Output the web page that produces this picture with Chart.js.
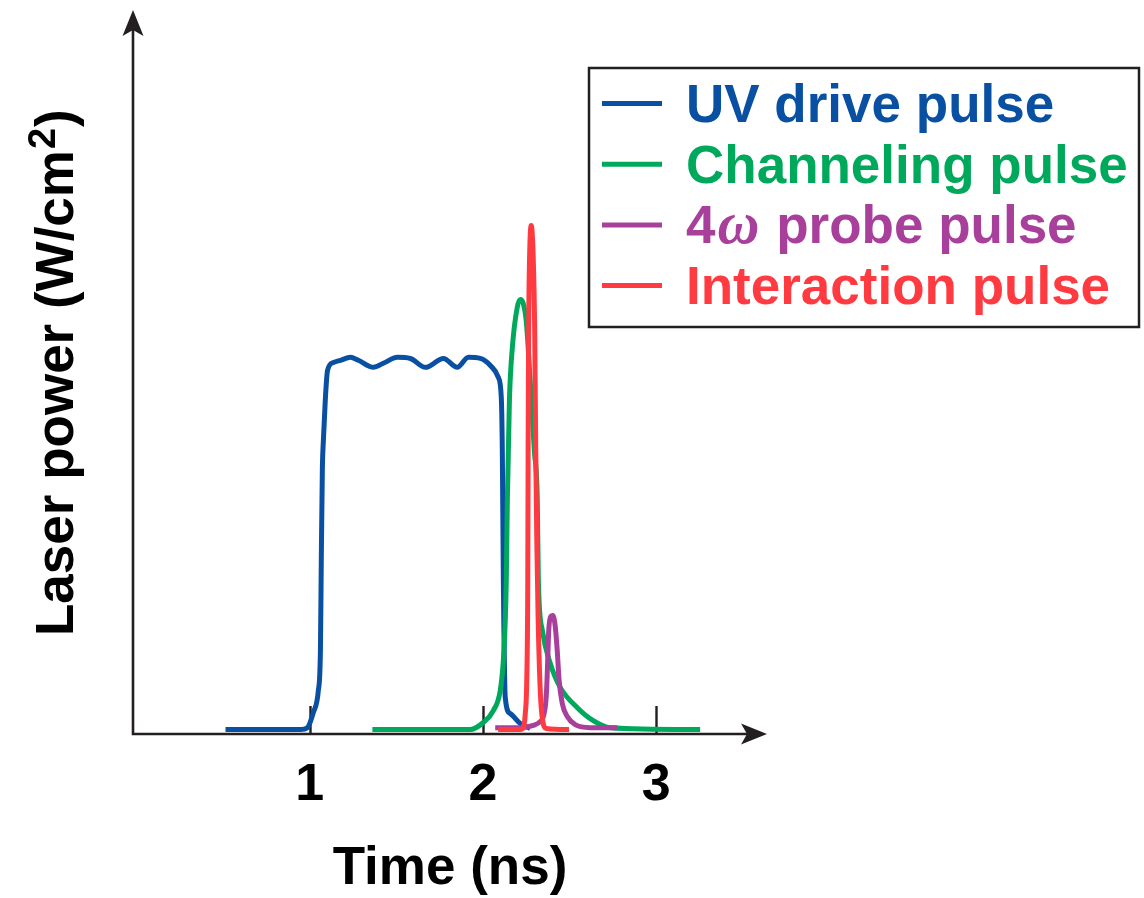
<!DOCTYPE html>
<html>
<head>
<meta charset="utf-8">
<script src="https://cdn.jsdelivr.net/npm/chart.js@4.4.1/dist/chart.umd.min.js"></script>
<style>
  html, body { margin: 0; padding: 0; background: #ffffff; }
  #wrap { width: 1144px; height: 898px; }
</style>
</head>
<body>
<div id="wrap"><canvas id="c" width="1144" height="898"></canvas></div>
<script>
// Pulse names, in legend order
const seriesNames = ['UV drive pulse', 'Channeling pulse', '4ω probe pulse', 'Interaction pulse'];
const seriesColors = ['#0A50A2', '#00A85C', '#A8409B', '#FF3B41'];

// Time (ns) and power (relative units, drive plateau ≈ 1)
const uvTime  = [0.514, 0.947, 0.987, 1.021, 1.05, 1.062, 1.067, 1.073, 1.079, 1.09, 1.103, 1.137, 1.178, 1.235, 1.281, 1.368, 1.425, 1.506, 1.581, 1.668, 1.772, 1.852, 1.916, 1.985, 2.043, 2.089, 2.106, 2.112, 2.118, 2.129, 2.158, 2.216, 2.273];
const uvPower = [0, 0, 0.005, 0.046, 0.105, 0.213, 0.456, 0.698, 0.779, 0.887, 0.968, 0.989, 0.995, 1.003, 0.995, 0.976, 0.987, 1.003, 1.0, 0.976, 1.0, 0.976, 1.003, 1.0, 0.981, 0.949, 0.895, 0.752, 0.402, 0.086, 0.043, 0.016, 0.003];

const chTime  = [1.362, 1.87, 1.927, 2.002, 2.06, 2.1, 2.118, 2.129, 2.135, 2.141, 2.153, 2.17, 2.198, 2.216, 2.233, 2.25, 2.273, 2.297, 2.314, 2.32, 2.343, 2.389, 2.447, 2.545, 2.637, 2.735, 3.254];
const chPower = [0, 0, 0, 0.019, 0.051, 0.105, 0.186, 0.294, 0.402, 0.617, 0.887, 1.03, 1.137, 1.159, 1.148, 1.102, 0.94, 0.75, 0.617, 0.402, 0.267, 0.178, 0.113, 0.059, 0.024, 0.005, 0];

const prTime  = [2.071, 2.216, 2.291, 2.332, 2.349, 2.366, 2.374, 2.38, 2.392, 2.403, 2.417, 2.429, 2.44, 2.458, 2.487, 2.533, 2.62, 2.775];
const prPower = [0.005, 0.005, 0.011, 0.022, 0.035, 0.092, 0.186, 0.267, 0.305, 0.307, 0.28, 0.213, 0.132, 0.07, 0.035, 0.013, 0.005, 0.005];

const intTime  = [2.088, 2.216, 2.233, 2.245, 2.253, 2.259, 2.261, 2.264, 2.269, 2.279, 2.29, 2.299, 2.305, 2.311, 2.319, 2.331, 2.343, 2.366, 2.497];
const intPower = [0, 0, 0.005, 0.046, 0.132, 0.402, 0.752, 1.075, 1.264, 1.358, 1.278, 1.075, 0.752, 0.51, 0.294, 0.105, 0.03, 0.003, 0];

// Axis ticks and titles
const tickValues = [1, 2, 3];
const xTitle = 'Time (ns)';
const yTitleMain = 'Laser power (W/cm';
const yTitleSup = '2';
const yTitleEnd = ')';

const SANS = "'Liberation Sans', Arial, Helvetica, sans-serif";
const SERIF = "'Liberation Serif', 'Times New Roman', serif";
const INK = '#231f20';

const toPoints = (ts, ps) => ts.map((t, i) => ({ x: t, y: ps[i] }));
const seriesData = [
  toPoints(uvTime, uvPower),
  toPoints(chTime, chPower),
  toPoints(prTime, prPower),
  toPoints(intTime, intPower)
];
// later series are drawn on top
const drawOrder = [3, 2, 1, 0];

// Axis lines with arrowheads and inward tick marks
const axesArrows = {
  id: 'axesArrows',
  beforeDatasetsDraw(chart) {
    const { ctx, chartArea: { left, right, top, bottom }, scales: { x } } = chart;
    ctx.save();
    ctx.strokeStyle = INK;
    ctx.fillStyle = INK;
    ctx.lineWidth = 2.6;
    ctx.lineCap = 'butt';
    ctx.beginPath();
    ctx.moveTo(left - 1.3, bottom);
    ctx.lineTo(right - 14, bottom);
    ctx.moveTo(left, bottom + 1.3);
    ctx.lineTo(left, top + 14);
    ctx.stroke();
    // x arrowhead
    ctx.beginPath();
    ctx.moveTo(right, bottom);
    ctx.lineTo(right - 26, bottom - 10.5);
    ctx.lineTo(right - 20, bottom);
    ctx.lineTo(right - 26, bottom + 10.5);
    ctx.closePath();
    ctx.fill();
    // y arrowhead
    ctx.beginPath();
    ctx.moveTo(left, top);
    ctx.lineTo(left - 10.5, top + 26);
    ctx.lineTo(left, top + 20);
    ctx.lineTo(left + 10.5, top + 26);
    ctx.closePath();
    ctx.fill();
    // tick marks
    ctx.lineWidth = 2.4;
    ctx.beginPath();
    tickValues.forEach(v => {
      const px = Math.round(x.getPixelForValue(v)) + 0.5;
      ctx.moveTo(px, bottom);
      ctx.lineTo(px, bottom - 28);
    });
    ctx.stroke();
    ctx.restore();
  }
};

// Vertical axis title with a raised exponent
const yAxisTitle = {
  id: 'yAxisTitle',
  afterDraw(chart) {
    const ctx = chart.ctx;
    ctx.save();
    ctx.translate(73, 636);
    ctx.rotate(-Math.PI / 2);
    ctx.fillStyle = '#000000';
    ctx.textAlign = 'left';
    ctx.textBaseline = 'alphabetic';
    let pos = 0;
    ctx.font = 'bold 53px ' + SANS;
    ctx.fillText(yTitleMain, pos, 0);
    pos += ctx.measureText(yTitleMain).width + 1;
    ctx.font = 'bold 38px ' + SANS;
    ctx.fillText(yTitleSup, pos, -18);
    pos += ctx.measureText(yTitleSup).width + 1;
    ctx.font = 'bold 53px ' + SANS;
    ctx.fillText(yTitleEnd, pos, 0);
    ctx.restore();
  }
};

// Boxed legend with line samples and coloured labels
const boxedLegend = {
  id: 'boxedLegend',
  afterDraw(chart) {
    const ctx = chart.ctx;
    const box = { x: 589, y: 68, w: 550, h: 259 };
    ctx.save();
    ctx.fillStyle = '#ffffff';
    ctx.fillRect(box.x, box.y, box.w, box.h);
    ctx.strokeStyle = INK;
    ctx.lineWidth = 2.5;
    ctx.strokeRect(box.x, box.y, box.w, box.h);
    chart.data.datasets.forEach((ds, i) => {
      const baseline = 122 + i * 60.7;
      const mid = baseline - 18.5;
      ctx.strokeStyle = ds.borderColor;
      ctx.lineWidth = 5;
      ctx.beginPath();
      ctx.moveTo(602, mid);
      ctx.lineTo(662, mid);
      ctx.stroke();
      ctx.fillStyle = ds.borderColor;
      ctx.textBaseline = 'alphabetic';
      ctx.textAlign = 'left';
      let xPos = 686;
      const parts = ds.label.split('ω');
      parts.forEach((part, k) => {
        if (k > 0) {
          ctx.font = 'italic bold 62px ' + SERIF;
          const w = ctx.measureText('ω').width;
          ctx.save();
          ctx.translate(xPos + 2, baseline);
          ctx.scale(42 / w, 1);
          ctx.fillText('ω', 0, 0);
          ctx.restore();
          xPos += 46;
        }
        ctx.font = 'bold 53px ' + SANS;
        ctx.fillText(part, xPos, baseline);
        xPos += ctx.measureText(part).width;
      });
    });
    ctx.restore();
  }
};

const tickFont = { family: SANS, size: 52, weight: 'bold', lineHeight: 1.2 };
const titleFont = { family: SANS, size: 53, weight: 'bold', lineHeight: 1.2 };

new Chart(document.getElementById('c'), {
  type: 'line',
  data: {
    datasets: seriesNames.map((name, i) => ({
      label: name,
      data: seriesData[i],
      borderColor: seriesColors[i],
      backgroundColor: seriesColors[i],
      borderWidth: 5,
      pointRadius: 0,
      fill: false,
      cubicInterpolationMode: 'monotone',
      order: drawOrder[i]
    }))
  },
  options: {
    responsive: false,
    animation: false,
    devicePixelRatio: 1,
    layout: { padding: { left: 133, top: 10, right: 377, bottom: 0 } },
    plugins: { legend: { display: false }, tooltip: { enabled: false } },
    scales: {
      x: {
        type: 'linear',
        min: -0.02,
        max: 3.64,
        afterBuildTicks: scale => { scale.ticks = tickValues.map(v => ({ value: v })); },
        ticks: { font: tickFont, color: '#000000', padding: 20, maxRotation: 0, autoSkip: false, callback: v => String(v) },
        grid: { display: false, drawTicks: false },
        border: { display: false },
        title: { display: true, text: xTitle, font: titleFont, color: '#000000', padding: { top: 1, bottom: -3 } }
      },
      y: {
        type: 'linear',
        min: -0.012,
        max: 1.939,
        ticks: { display: false },
        grid: { display: false, drawTicks: false },
        border: { display: false },
        title: { display: false }
      }
    }
  },
  plugins: [axesArrows, yAxisTitle, boxedLegend]
});
</script>
</body>
</html>
